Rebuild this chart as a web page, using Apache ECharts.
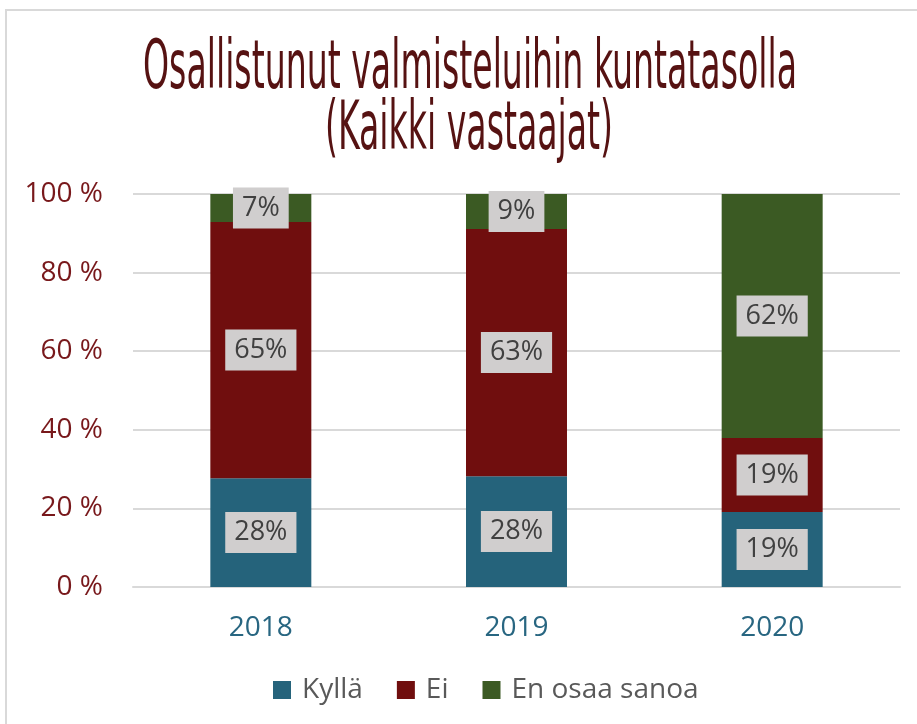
<!DOCTYPE html>
<html>
<head>
<meta charset="utf-8">
<script src="https://cdn.jsdelivr.net/npm/echarts@6/dist/echarts.min.js"></script>
<style>html,body{margin:0;padding:0;background:#fff;}#c{width:917px;height:724px;}</style>
</head>
<body>
<div id="c"></div>
<script>
const titleLines = ['Osallistunut valmisteluihin kuntatasolla', '(Kaikki vastaajat)'];
const categories = ['2018', '2019', '2020'];
const seriesNames = ['Kyllä', 'Ei', 'En osaa sanoa'];
const kylla = [27.7, 28.2, 19.1];
const ei = [65.2, 62.9, 18.8];
const enOsaa = [7.1, 8.9, 62.1];
const yTicks = [0, 20, 40, 60, 80, 100];

const colors = ['#25637B', '#700E0E', '#3B5A23'];
const titleFont = '"Liberation Sans Narrow", "DejaVu Sans Condensed", sans-serif';
const titleSize = 68;
const cv = document.createElement('canvas').getContext('2d');
cv.font = titleSize + 'px ' + titleFont;
const w1 = cv.measureText(titleLines[0]).width;
const sx = 654 / w1;

const chart = echarts.init(document.getElementById('c'));
const labelCfg = {
  show: true,
  position: 'inside',
  formatter: p => Math.round(p.value) + '%',
  fontFamily: 'Open Sans',
  fontSize: 27,
  color: '#404040',
  backgroundColor: '#D0CECE',
  padding: [8, 9, 6, 9]
};
function mk(name, data, i) {
  return {
    name, type: 'bar', stack: 'a', data, barWidth: '39.5%',
    itemStyle: { color: colors[i] },
    label: labelCfg
  };
}
chart.setOption({
  animation: false,
  graphic: [
    { type: 'rect', shape: { x: 6, y: 10, width: 1000, height: 1000 }, style: { fill: 'none', stroke: '#D9D9D9', lineWidth: 2 }, silent: true },
    { type: 'text', x: 470, y: 70, scaleX: sx, scaleY: 1, style: { text: titleLines[0], font: titleSize + 'px ' + titleFont, fill: '#561212', textAlign: 'center', textVerticalAlign: 'middle' } },
    { type: 'text', x: 469, y: 131, scaleX: sx, scaleY: 1, style: { text: titleLines[1], font: titleSize + 'px ' + titleFont, fill: '#561212', textAlign: 'center', textVerticalAlign: 'middle' } }
  ],
  legend: {
    bottom: 15, left: 268,
    data: seriesNames,
    icon: 'rect', itemWidth: 18, itemHeight: 18, itemGap: 34,
    textStyle: { fontFamily: 'Open Sans', fontSize: 28, color: '#595959', padding: [0, 0, 0, 6] }
  },
  grid: { left: 133, right: 17, top: 194, bottom: 137, containLabel: false },
  xAxis: {
    type: 'category', data: categories,
    axisLine: { lineStyle: { color: '#D9D9D9', width: 2 } },
    axisTick: { show: false },
    axisLabel: { fontFamily: 'Open Sans', fontSize: 28, color: '#286681', margin: 27 }
  },
  yAxis: {
    type: 'value', min: 0, max: 100, interval: 20,
    axisLine: { show: false }, axisTick: { show: false },
    splitLine: { lineStyle: { color: '#D9D9D9', width: 2 } },
    axisLabel: { fontFamily: 'Open Sans', fontSize: 28, color: '#78181B', margin: 30, formatter: v => v + ' %',
      customValues: yTicks }
  },
  series: [mk(seriesNames[0], kylla, 0), mk(seriesNames[1], ei, 1), mk(seriesNames[2], enOsaa, 2)]
});
</script>
</body>
</html>
